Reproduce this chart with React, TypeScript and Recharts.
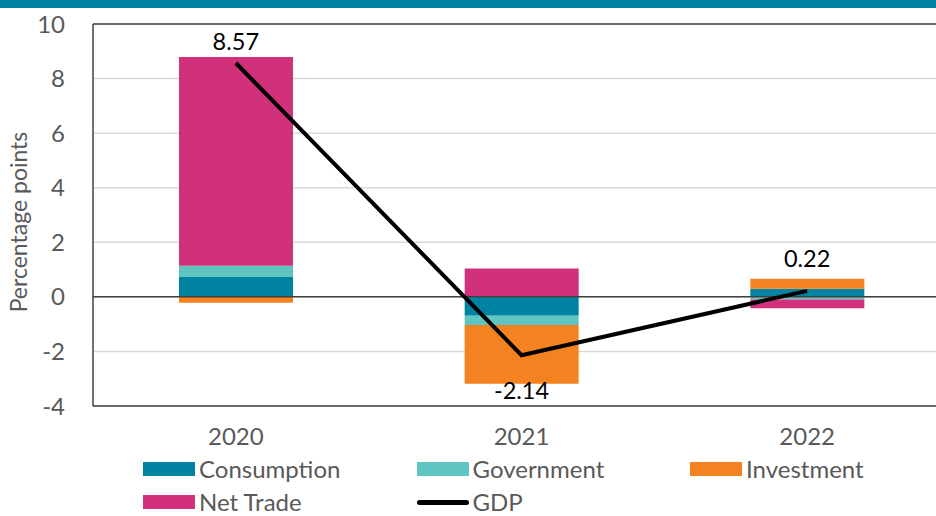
import React from 'react';
import { ComposedChart, Bar, Line, XAxis, YAxis, CartesianGrid, ReferenceLine, Legend, LabelList } from 'recharts';

const years = ['2020', '2021', '2022'];
const consumption = [0.73, -0.69, 0.3];
const government = [0.41, -0.34, -0.1];
const investment = [-0.22, -2.15, 0.36];
const netTrade = [7.65, 1.04, -0.32];
const gdp = [8.57, -2.14, 0.22];
const yTicks = [-4, -2, 0, 2, 4, 6, 8, 10];

const COLORS = {
  consumption: '#0083A0',
  government: '#5FC5C1',
  investment: '#F58220',
  netTrade: '#D1307A',
  gdp: '#000000',
};

const data = years.map((year, i) => ({
  year,
  consumption: consumption[i],
  government: government[i],
  investment: investment[i],
  netTrade: netTrade[i],
  gdp: gdp[i],
}));

const FONT = 'Lato, "Open Sans", sans-serif';
const GREY = '#595959';

const legendItems = [
  { name: 'Consumption', color: COLORS.consumption, type: 'box' },
  { name: 'Government', color: COLORS.government, type: 'box' },
  { name: 'Investment', color: COLORS.investment, type: 'box' },
  { name: 'Net Trade', color: COLORS.netTrade, type: 'box' },
  { name: 'GDP', color: COLORS.gdp, type: 'line' },
];

const LegendContent = () => (
  <div style={{ width: 936, height: 60, position: 'relative', fontFamily: FONT }}>
    {legendItems.map((it, i) => {
      const col = i % 3;
      const row = Math.floor(i / 3);
      return (
        <div
          key={it.name}
          style={{
            position: 'absolute',
            left: 143 + col * 273.5,
            top: 6 + row * 33,
            height: 24,
            display: 'flex',
            alignItems: 'center',
            color: GREY,
            fontSize: 24,
            lineHeight: '24px',
            whiteSpace: 'nowrap',
          }}
        >
          {it.type === 'box' ? (
            <span style={{ display: 'inline-block', width: 52, height: 14, background: it.color, marginRight: 4 }} />
          ) : (
            <span style={{ display: 'inline-block', width: 52, height: 5, borderRadius: 3, background: it.color, marginRight: 4 }} />
          )}
          <span style={{ lineHeight: '24px' }}>{it.name}</span>
        </div>
      );
    })}
  </div>
);

const GdpLabel = (props: any) => {
  const { x, y, value } = props;
  const v = Number(value);
  const ty = v >= 0 ? y - (v > 5 ? 22 : 33) : y + 35;
  return (
    <text x={x} y={ty} textAnchor="middle" dominantBaseline="central" fontSize={23.5} fontFamily={FONT} fill="#000">
      {v.toFixed(2)}
    </text>
  );
};

const YTitle = () => (
  <text
    x={18}
    y={222}
    transform="rotate(-90, 18, 222)"
    textAnchor="middle"
    dominantBaseline="central"
    fontSize={23}
    fontFamily={FONT}
    fill={GREY}
  >
    Percentage points
  </text>
);

export default function App() {
  return (
    <div style={{ position: 'absolute', top: 0, left: 0, width: 936, height: 516, overflow: 'hidden', background: '#fff' }}>
      <ComposedChart
        width={960}
        height={516}
        data={data}
        stackOffset="sign"
        margin={{ top: 24, right: 10, left: 0, bottom: 20 }}
      >
        <CartesianGrid vertical={false} stroke="#d9d9d9" strokeWidth={1.5} />
        <XAxis
          dataKey="year"
          height={30}
          tickLine={false}
          axisLine={{ stroke: '#404040', strokeWidth: 1.5 }}
          tick={{ fill: GREY, fontSize: 24, fontFamily: FONT }}
          tickMargin={16}
        />
        <YAxis
          width={93}
          domain={[-4, 10]}
          ticks={yTicks}
          interval={0}
          tickLine={false}
          axisLine={{ stroke: '#404040', strokeWidth: 1.5 }}
          tick={{ fill: GREY, fontSize: 24, fontFamily: FONT }}
          tickMargin={22}
          label={<YTitle />}
        />
        <ReferenceLine y={10} stroke="#404040" strokeWidth={1.5} />
        <Bar dataKey="consumption" name="Consumption" stackId="a" fill={COLORS.consumption} barSize={114} isAnimationActive={false} />
        <Bar dataKey="government" name="Government" stackId="a" fill={COLORS.government} barSize={114} isAnimationActive={false} />
        <Bar dataKey="investment" name="Investment" stackId="a" fill={COLORS.investment} barSize={114} isAnimationActive={false} />
        <Bar dataKey="netTrade" name="Net Trade" stackId="a" fill={COLORS.netTrade} barSize={114} isAnimationActive={false} />
        <ReferenceLine y={0} stroke="#404040" strokeWidth={1.5} />
        <Line
          dataKey="gdp"
          name="GDP"
          stroke={COLORS.gdp}
          strokeWidth={4}
          dot={false}
          activeDot={false}
          isAnimationActive={false}
        >
          <LabelList dataKey="gdp" content={GdpLabel} />
        </Line>
        <Legend verticalAlign="bottom" content={LegendContent} wrapperStyle={{ left: 0, top: 451, bottom: 'auto', width: 936 }} />
      </ComposedChart>
      <div style={{ position: 'absolute', top: 0, left: 0, width: 936, height: 8, background: '#0083A0' }} />
    </div>
  );
}
